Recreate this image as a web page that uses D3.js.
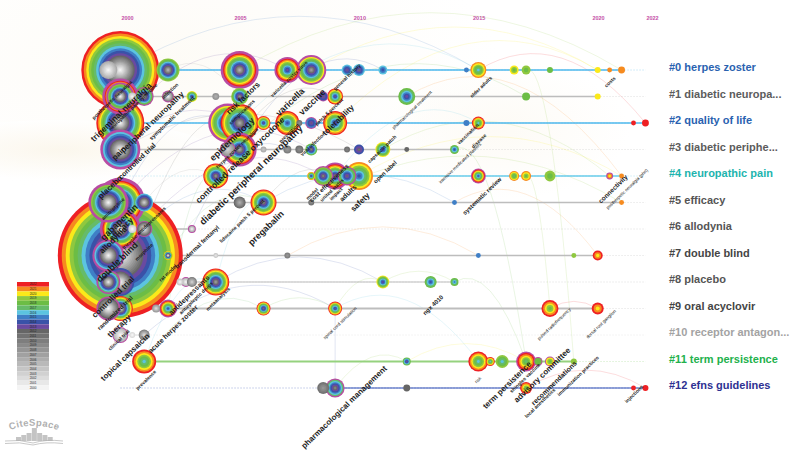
<!DOCTYPE html>
<html>
<head>
<meta charset="utf-8">
<script src="https://cdn.jsdelivr.net/npm/d3@7"></script>
<style>
    body { margin: 0; background: #fff; }
    text { font-family: "Liberation Sans", Arial, sans-serif; }
</style>
</head>
<body>
<div id="chart"></div>
<script>
// Data
const clusterNames = ["#0 herpes zoster", "#1 diabetic neuropa...", "#2 quality of life", "#3 diabetic periphe...",
    "#4 neuropathic pain", "#5 efficacy", "#6 allodynia", "#7 double blind", "#8 placebo", "#9 oral acyclovir",
    "#10 receptor antagon...", "#11 term persistence", "#12 efns guidelines"];
const clusterColors = ["#2a62b0", "#5c5c5c", "#2a62b0", "#5c5c5c", "#1db4ae", "#555555", "#555555", "#454545",
    "#555555", "#454545", "#a3a3a3", "#22b14c", "#2e3192"];
const laneColors = ["#4fb9ec", "#bdbdbd", "#4fb9ec", "#bdbdbd", "#6accea", "#bdbdbd", "#bdbdbd", "#bdbdbd",
    "#bdbdbd", "#bdbdbd", "#d5d5d5", "#95d27e", "#2f4fb5"];
const tickYears = [2000, 2005, 2010, 2015, 2020, 2022];
const legendYears = d3.range(2022, 1999, -1);
const colorYears = [2022, 2021, 2020, 2019, 2018, 2017, 2016, 2015, 2014, 2013];
const colorValues = ["#ee2024", "#f68b1f", "#fbe91a", "#8fc83f", "#6cbd45", "#66bb6a", "#5cc4e0", "#3f7fc6", "#3a52a8", "#6a4aa0"];

// each node: [year, citation count, first cited year, last cited year, high centrality ring]
const lane0 = [[2000, 1521, 2000, 2022, 0], [1999.5, 81, 2000, 2006, 0], [2002, 132, 2005, 2019, 0], [2005, 361, 2005, 2022, 1],
    [2007, 169, 2013, 2022, 1], [2008, 225, 2007, 2020, 1], [2009.5, 30, 2012, 2016, 0], [2010, 36, 2011, 2016, 0],
    [2011, 20, 2014, 2016, 0], [2014.5, 6, 2015, 2015, 0], [2015, 64, 2016, 2021, 0], [2016.5, 20, 2018, 2020, 0],
    [2017, 20, 2018, 2019, 0], [2018, 9, 2018, 2018, 0], [2020, 9, 2020, 2020, 0], [2020.5, 6, 2021, 2021, 0], [2021, 12, 2021, 2021, 0]];
const lane1 = [[2000, 324, 2000, 2022, 1], [2000, 196, 2000, 2019, 1], [2000.5, 16, 2000, 2004, 0], [2001, 90, 2006, 2018, 1],
    [2002, 36, 2000, 2010, 1], [2003, 30, 2013, 2020, 0], [2004, 12, 2006, 2008, 0], [2005, 72, 2008, 2019, 0],
    [2008.5, 25, 2012, 2014, 1], [2009, 64, 2013, 2022, 0], [2012, 72, 2013, 2018, 0], [2017, 16, 2018, 2018, 0], [2020, 9, 2020, 2020, 0]];
const lane2 = [[2000, 576, 2000, 2022, 0], [2004.5, 380, 2006, 2020, 1], [2005, 361, 2006, 2022, 0], [2006, 49, 2013, 2022, 0],
    [2007, 144, 2014, 2022, 0], [2007.5, 9, 2009, 2011, 0], [2008, 36, 2012, 2015, 1], [2009, 144, 2013, 2022, 0],
    [2014.5, 9, 2015, 2015, 0], [2015, 42, 2016, 2022, 0], [2021.5, 6, 2022, 2022, 0], [2022, 12, 2022, 2022, 0]];
const lane3 = [[2000, 400, 2000, 2016, 1], [2004.5, 64, 2003, 2008, 1], [2005, 289, 2006, 2022, 1], [2006, 9, 2004, 2006, 0],
    [2007, 16, 2008, 2010, 0], [2007.5, 16, 2009, 2011, 0], [2008, 36, 2009, 2018, 0], [2009.5, 9, 2010, 2011, 0],
    [2010, 25, 2011, 2014, 0], [2011, 56, 2013, 2020, 0], [2012, 6, 2012, 2012, 0], [2014, 20, 2014, 2018, 0]];
const lane4 = [[2004, 156, 2008, 2022, 0], [2008, 16, 2012, 2021, 0], [2008.5, 100, 2009, 2019, 1], [2009, 182, 2010, 2022, 1],
    [2009.5, 90, 2011, 2018, 1], [2010, 196, 2014, 2021, 0], [2015, 56, 2014, 2022, 1], [2016.5, 25, 2017, 2021, 0],
    [2017, 25, 2018, 2021, 0], [2018, 30, 2018, 2019, 0], [2020.5, 12, 2020, 2021, 1], [2021, 6, 2021, 2021, 0]];
const lane5 = [[2000, 625, 2000, 2022, 1], [1999.5, 400, 2000, 2019, 1], [2001, 81, 2003, 2016, 0], [2005, 36, 2006, 2012, 0],
    [2006, 169, 2009, 2022, 0], [2008, 9, 2009, 2011, 0], [2014, 6, 2015, 2015, 0], [2021, 6, 2021, 2021, 0]];
const lane6 = [[2000, 420, 2000, 2022, 1], [2000.5, 16, 2000, 2003, 0], [2001, 64, 2001, 2012, 1], [2003, 16, 2000, 2006, 1]];
const lane7 = [[2000, 3906, 2000, 2022, 0], [1999.5, 256, 2000, 2016, 1], [2002, 20, 2000, 2021, 0], [2004, 6, 2001, 2004, 0],
    [2007, 9, 2008, 2010, 0], [2015, 6, 2015, 2015, 0], [2019, 6, 2019, 2019, 0], [2020, 25, 2020, 2022, 0]];
const lane8 = [[2000, 196, 2000, 2014, 0], [1999.5, 144, 2001, 2017, 1], [2002.5, 12, 2000, 2004, 0], [2002.75, 25, 2000, 2005, 1],
    [2003, 25, 2003, 2010, 0], [2004, 182, 2007, 2022, 0], [2011, 42, 2013, 2020, 0], [2013, 36, 2014, 2018, 0], [2014, 16, 2015, 2018, 0]];
const lane9 = [[2000, 156, 2001, 2022, 0], [1999.5, 144, 2000, 2012, 1], [2001.5, 16, 2002, 2008, 0], [2002, 81, 2014, 2022, 1],
    [2006, 49, 2010, 2022, 0], [2009, 49, 2013, 2022, 0], [2018, 72, 2018, 2022, 0], [2020, 36, 2020, 2022, 0]];
const lane10 = [[2000, 64, 2000, 2005, 1], [2000.5, 9, 2000, 2002, 0], [2001, 30, 2002, 2010, 0]];
const lane11 = [[2001, 144, 2016, 2022, 0], [2012, 16, 2012, 2018, 0], [2015, 100, 2016, 2022, 0], [2015.5, 20, 2016, 2022, 0],
    [2016, 42, 2016, 2019, 0], [2017, 100, 2017, 2022, 1], [2017.5, 20, 2018, 2018, 1], [2018, 25, 2018, 2020, 1], [2019, 9, 2019, 2019, 0]];
const lane12 = [[2008.5, 36, 2008, 2011, 0], [2009, 90, 2009, 2017, 1], [2012, 12, 2012, 2012, 0], [2017, 36, 2018, 2022, 0],
    [2021.5, 6, 2022, 2022, 0], [2022, 9, 2022, 2022, 0]];
const laneNodes = [lane0, lane1, lane2, lane3, lane4, lane5, lane6, lane7, lane8, lane9, lane10, lane11, lane12];

// links between nodes: [lane, year, lane, year, year of the link]
const links = [[0, 2000, 0, 2015, 2015], [0, 2005, 0, 2021, 2019], [0, 2008, 0, 2020, 2020], [0, 2002, 1, 2005, 2008],
    [2, 2000, 0, 2007, 2013], [2, 2005, 0, 2015, 2016], [2, 2009, 0, 2020, 2020], [0, 2015, 2, 2022, 2022], [1, 2012, 4, 2021, 2021],
    [3, 2005, 0, 2011, 2014], [3, 2000, 2, 2005, 2013], [3, 2011, 4, 2020.5, 2019], [3, 2000, 3, 2010, 2012], [3, 2005, 1, 2017, 2018],
    [4, 2004, 1, 2009, 2012], [4, 2010, 4, 2021, 2020], [4, 2009, 2, 2015, 2016], [5, 2000, 2, 2004.5, 2014], [5, 2000, 3, 2008, 2013],
    [5, 2006, 4, 2009, 2012], [5, 2008, 5, 2021, 2019], [5, 2014, 7, 2020, 2021], [5, 2001, 4, 2004, 2008], [5, 2006, 5, 2014, 2015],
    [6, 2003, 3, 2007, 2014], [6, 2001, 2, 2005, 2012], [7, 2000, 4, 2008.5, 2013], [7, 2000, 5, 2006, 2015], [7, 2002, 5, 2006, 2017],
    [7, 2007, 7, 2015, 2021], [8, 2004, 5, 2006, 2016], [8, 2004, 8, 2011, 2014], [8, 2011, 8, 2014, 2019], [8, 2014, 11, 2017, 2018],
    [9, 2006, 9, 2009, 2018], [9, 2009, 8, 2011, 2019], [9, 2009, 11, 2015, 2016], [9, 2018, 9, 2020, 2022], [9, 2002, 4, 2004, 2017],
    [10, 2001, 9, 2009, 2014], [11, 2001, 8, 2004, 2016], [11, 2001, 9, 2006, 2017], [11, 2012, 11, 2017, 2020], [12, 2009, 11, 2012, 2019],
    [12, 2009, 9, 2009, 2014], [12, 2017, 12, 2022, 2022], [11, 2019, 0, 2017, 2019], [11, 2017, 3, 2014, 2018], [9, 2018, 4, 2017, 2019]];

// Layout only: annotation text with its centre and font size
const labelPlacement = [
    ["postherpetic neuralgia", 112, 100, 5], ["neuropathic pain syndrome", 133, 107, 5], ["trigeminal neuralgia", 121, 112, 8.5],
    ["infection", 170, 91, 5], ["peripheral neuropathy", 152, 122, 8], ["symptomatic treatment", 172, 118, 5.5], ["pain", 119, 153, 8],
    ["controlled trial", 137, 161, 7], ["placebo", 110, 187, 8], ["amitriptyline", 113, 209, 5], ["gabapentin", 119, 222, 9],
    ["efficacy", 121, 229, 8], ["allodynia", 113, 240, 8], ["double blind", 117, 262, 9], ["nerve injury", 112, 270, 5],
    ["morphine", 144, 252, 5], ["tricyclic antidepressants", 144, 228, 5], ["rat model", 168, 273, 5], ["transdermal fentanyl", 197, 247, 6],
    ["controlled trial", 113, 297, 8], ["randomized trial", 115, 313, 6], ["therapy", 119, 326, 8], ["clinical trial", 119, 340, 5],
    ["topical capsaicin", 125, 357, 8], ["pregabalin", 266, 228, 9], ["lidocaine patch 5 percent", 242, 221, 5], ["antidepressants", 189, 295, 7],
    ["antiepileptic drugs", 196, 298, 5], ["acute herpes zoster", 173, 329, 7], ["prevalence", 146, 380, 5], ["metaanalysis", 218, 299, 5],
    ["risk factors", 243, 98, 8], ["complications", 242, 112, 5], ["varicella", 290, 102, 9], ["vaccine", 312, 102, 9],
    ["epidemiology", 232, 139, 9], ["controlled release oxycodone", 240, 160, 8.5], ["diabetic peripheral neuropathy", 251, 175, 9.5],
    ["patch 5 percent", 329, 112, 5], ["varicella zoster virus", 289, 79, 5], ["general history", 347, 77, 5], ["tolerability", 338, 120, 8],
    ["viral infection", 313, 144, 5], ["prevention", 289, 133, 5], ["herpes zoster neuralgia", 237, 148, 5], ["model", 312, 194, 5],
    ["cost effectiveness", 329, 183, 6], ["united states", 332, 190, 5], ["impact", 336, 194, 5], ["adults", 348, 193, 7], ["safety", 360, 202, 8],
    ["open label", 385, 172, 6], ["capsaicin patch", 382, 149, 5], ["pharmacological treatment", 412, 110, 4.5], ["older adults", 481, 87, 5],
    ["vaccination", 468, 134, 5], ["disease", 479, 141, 5], ["intensive medicated plasters", 460, 163, 4.5], ["systematic review", 482, 196, 6],
    ["costs", 610, 82, 5], ["connectivity", 613, 189, 6.5], ["postherpetic neuralgia (phn)", 627, 189, 4.5], ["spinal cord stimulation", 340, 323, 4.5],
    ["ngx 4010", 433, 305, 6], ["pulsed radiofrequency", 554, 324, 4.5], ["dorsal root ganglion", 601, 324, 4.5],
    ["pharmacological management", 344, 407, 8], ["risk", 478, 380, 4.5], ["term persistence", 507, 385, 8], ["shingles vaccine", 525, 378, 5],
    ["advisory committee", 542, 375, 8], ["recommendations", 554, 383, 7], ["immunization practices", 578, 376, 5], ["local anesthetics", 540, 403, 5],
    ["injections", 634, 394, 5]
];

const width = 800, height = 458;

const svg = d3.select("#chart")
    .append("svg")
    .attr("width", width)
    .attr("height", height)
    .style("display", "block");

// Scales
const x = d3.scaleLinear().domain([2000, 2020]).range([120.3, 597.7]);
const xTicks = d3.scaleLinear().domain([2000, 2005, 2020, 2022]).range([127, 240, 598, 652]);
const y = d3.scaleLinear().domain([0, 12]).range([70, 388]);
const radius = d3.scaleSqrt().domain([0, 3906]).range([0, 62.5]);
const greys = d3.scaleLinear().domain([2012, 2000]).range(["#666666", "#f4f4f4"]);
const yearColor = yr => yr >= 2013 ? colorValues[colorYears.indexOf(yr)] : greys(yr);
const legendBand = d3.scaleBand().domain(legendYears).range([282, 390]);

// Pale wash behind the chart
const defs = svg.append("defs");
const glow = defs.append("radialGradient").attr("id", "wash");
glow.append("stop").attr("offset", "0%").attr("stop-color", "#faf4e6");
glow.append("stop").attr("offset", "100%").attr("stop-color", "#ffffff");
svg.append("ellipse").attr("cx", 170).attr("cy", 60).attr("rx", 330).attr("ry", 140).attr("fill", "url(#wash)").attr("opacity", 0.35);
svg.append("ellipse").attr("cx", 60).attr("cy", 150).attr("rx", 150).attr("ry", 30).attr("fill", "url(#wash)").attr("opacity", 0.7);
svg.append("ellipse").attr("cx", 500).attr("cy", 130).attr("rx", 130).attr("ry", 70).attr("fill", "url(#wash)").attr("opacity", 0.4);

// Year labels
const yearAxis = svg.append("g")
    .attr("transform", "translate(0, 23)")
    .call(d3.axisTop(xTicks).tickValues(tickYears).tickFormat(d3.format("d")).tickSize(0));
yearAxis.select(".domain").remove();
yearAxis.selectAll("text")
    .attr("fill", "#c44fa8")
    .attr("font-size", 5.5)
    .attr("font-weight", "bold");

// Pale dotted lanes
svg.selectAll(".laneDots")
    .data(laneColors)
    .enter()
    .append("line")
    .attr("class", "laneDots")
    .attr("x1", x(2000))
    .attr("x2", x(2022))
    .attr("y1", (d, i) => y(i))
    .attr("y2", (d, i) => y(i))
    .attr("stroke", d => d)
    .attr("stroke-width", 0.7)
    .attr("stroke-dasharray", "1.5 1.5")
    .attr("opacity", 0.45);

// Links between nodes
const linkPath = d => {
    const x0 = x(d[1]), y0 = y(d[0]), x1 = x(d[3]), y1 = y(d[2]);
    const path = d3.path();
    path.moveTo(x0, y0);
    path.quadraticCurveTo((x0 + x1) / 2, Math.min(y0, y1) - Math.abs(x1 - x0) * 0.3, x1, y1);
    return path.toString();
};
svg.selectAll(".nodeLink")
    .data(links)
    .enter()
    .append("path")
    .attr("class", "nodeLink")
    .attr("d", linkPath)
    .attr("fill", "none")
    .attr("stroke", d => yearColor(d[4]))
    .attr("stroke-width", 0.7)
    .attr("opacity", 0.22);

// Solid lane segments, first node to last node
const laneWidths = [1.6, 1.6, 1.6, 1.6, 1.6, 1.6, 1.6, 1.6, 1.1, 2, 0.8, 2, 1.2];
svg.selectAll(".laneLine")
    .data(laneNodes)
    .enter()
    .append("line")
    .attr("class", "laneLine")
    .attr("x1", d => x(Math.max(2000, d3.min(d, n => n[0]))))
    .attr("x2", d => x(d3.max(d, n => n[0])))
    .attr("y1", (d, i) => y(i))
    .attr("y2", (d, i) => y(i))
    .attr("stroke", (d, i) => laneColors[i])
    .attr("stroke-width", (d, i) => laneWidths[i]);

// Turn a node into its rings, outermost (latest year) first
const greyWeight = 0.45;
function nodeRings(r, first, last, hasRing) {
    let rings = [];
    let outer = r;
    if (hasRing) {
        rings.push({ r: outer, color: "#b84ca3" });
        outer = r - Math.max(1, r * 0.13);
    }
    let years = d3.range(last, first - 1, -1);
    let total = d3.sum(years, yr => yr >= 2013 ? 1 : greyWeight);
    let left = total;
    years.forEach(yr => {
        rings.push({ r: outer * left / total, color: yearColor(yr) });
        left -= yr >= 2013 ? 1 : greyWeight;
    });
    return rings;
}

// Flatten lanes, biggest nodes drawn first
const nodes = laneNodes.flatMap((list, lane) => list.map(n => ({
    lane, year: n[0], r: radius(n[1]), first: n[2], last: n[3], hasRing: n[4]
}))).sort((a, b) => b.r - a.r);

const nodeGroups = svg.selectAll(".node")
    .data(nodes)
    .enter()
    .append("g")
    .attr("class", "node")
    .attr("transform", d => `translate(${x(d.year)}, ${y(d.lane)})`);
nodeGroups.selectAll("circle")
    .data(d => nodeRings(d.r, d.first, d.last, d.hasRing))
    .enter()
    .append("circle")
    .attr("r", d => d.r)
    .attr("fill", d => d.color);

// Diagonal keyword labels
svg.selectAll(".keyword")
    .data(labelPlacement)
    .enter()
    .append("text")
    .attr("class", "keyword")
    .attr("transform", d => `translate(${d[1]}, ${d[2]}) rotate(-44)`)
    .attr("text-anchor", "middle")
    .attr("dy", "0.35em")
    .attr("font-size", d => d[3])
    .attr("font-weight", d => d[3] >= 5 ? "bold" : "normal")
    .attr("fill", "#1c1c1c")
    .text(d => d[0]);

// Cluster names on the right
svg.selectAll(".clusterName")
    .data(clusterNames)
    .enter()
    .append("text")
    .attr("class", "clusterName")
    .attr("x", 669)
    .attr("y", (d, i) => y(i) + 1)
    .attr("font-size", 11)
    .attr("font-weight", "bold")
    .attr("fill", (d, i) => clusterColors[i])
    .text(d => d);

// Year legend
svg.selectAll(".legendCell")
    .data(legendYears)
    .enter()
    .append("rect")
    .attr("class", "legendCell")
    .attr("x", 17)
    .attr("y", d => legendBand(d))
    .attr("width", 32)
    .attr("height", legendBand.bandwidth())
    .attr("fill", d => yearColor(d));
svg.selectAll(".legendYear")
    .data(legendYears)
    .enter()
    .append("text")
    .attr("class", "legendYear")
    .attr("x", 33)
    .attr("y", d => legendBand(d) + legendBand.bandwidth() / 2)
    .attr("dy", "0.35em")
    .attr("text-anchor", "middle")
    .attr("font-size", 3)
    .attr("fill", "#222")
    .text(d => d);

// CiteSpace logo
const logo = svg.append("g").attr("fill", "#c4c4c4");
defs.append("path").attr("id", "logoArc").attr("d", "M10,430 Q34,421 60,431");
logo.append("text")
    .attr("font-size", 9.5)
    .attr("font-weight", "bold")
    .attr("fill", "#b0b0b0")
    .attr("letter-spacing", 0.4)
    .append("textPath")
    .attr("href", "#logoArc")
    .text("CiteSpace");
const logoHeights = [4, 6, 8, 13, 8, 6, 4];
const logoBand = d3.scaleBand().domain(d3.range(logoHeights.length)).range([16, 53]);
logo.selectAll("rect")
    .data(logoHeights)
    .enter()
    .append("rect")
    .attr("x", (d, i) => logoBand(i))
    .attr("y", d => 441 - d)
    .attr("width", logoBand.bandwidth() - 0.3)
    .attr("height", d => d);
logo.append("path")
    .attr("d", "M5,441 Q20,439 33,443 Q46,439 63,441 M5,443.5 Q20,441.5 33,445 Q46,441.5 63,443.5")
    .attr("fill", "none")
    .attr("stroke", "#b0b0b0")
    .attr("stroke-width", 0.7);
</script>
</body>
</html>
